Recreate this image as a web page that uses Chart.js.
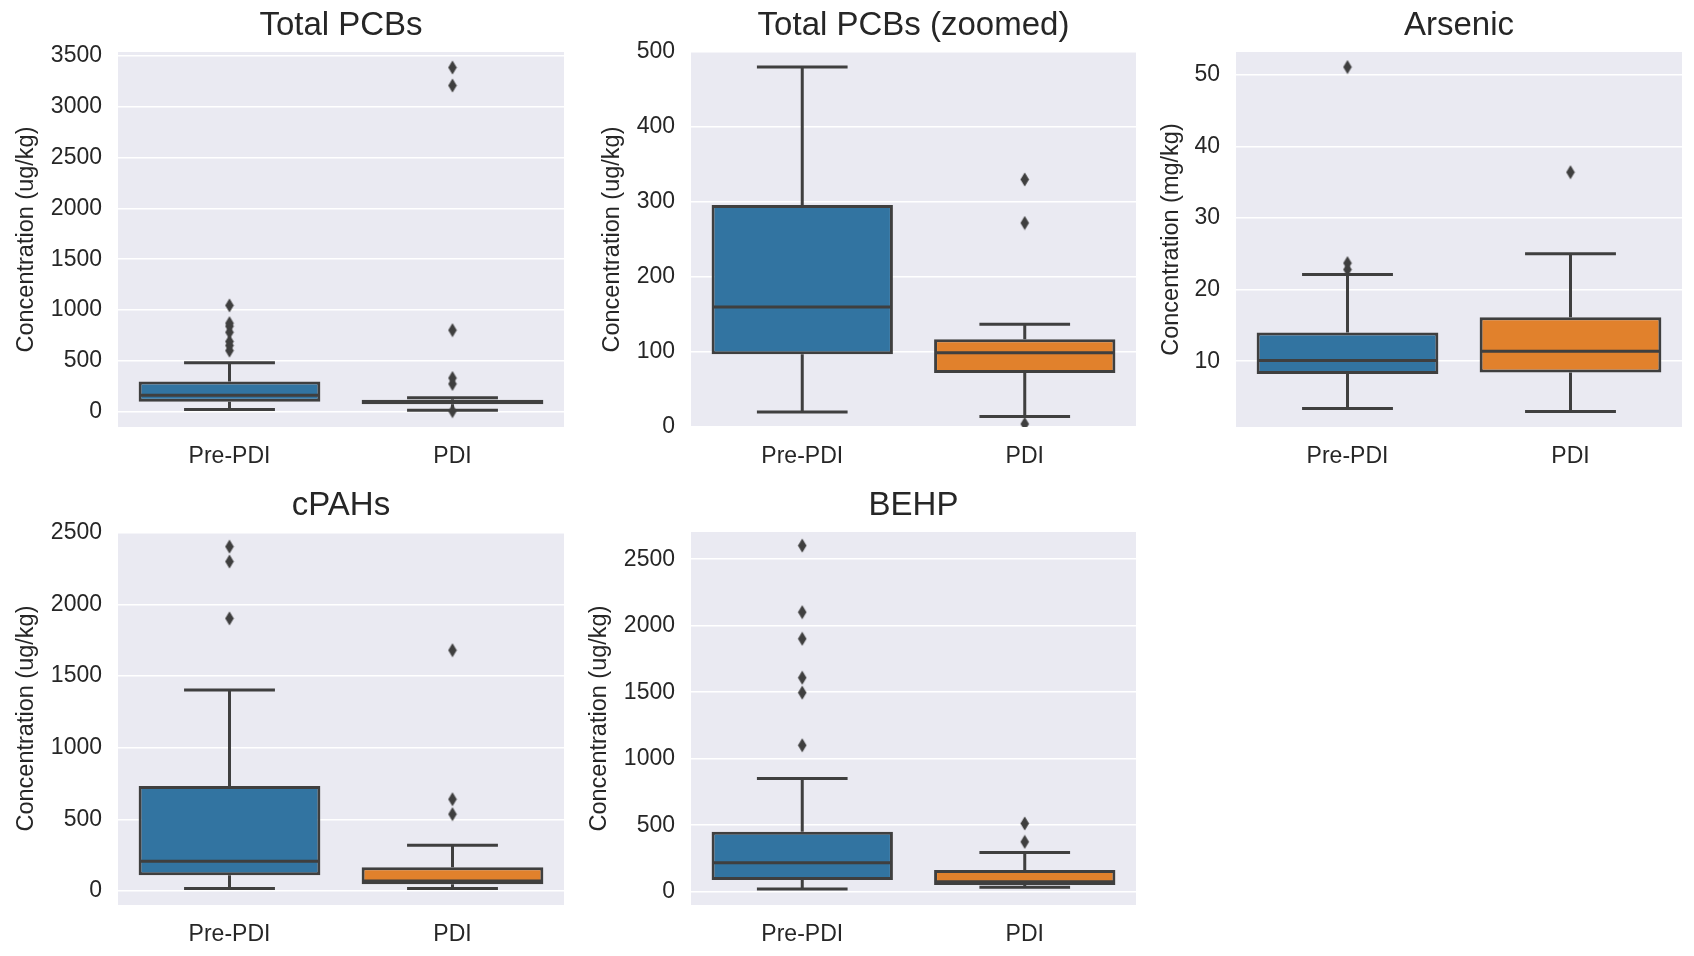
<!DOCTYPE html>
<html>
<head>
<meta charset="utf-8">
<script src="https://cdn.jsdelivr.net/npm/chart.js@4.4.1/dist/chart.umd.min.js"></script>
<style>
  html, body { margin: 0; padding: 0; background: #fff; }
  body { width: 1694px; height: 956px; position: relative; overflow: hidden; }
  canvas { position: absolute; }
</style>
</head>
<body>
<canvas id="pcb"></canvas>
<canvas id="pcbZoom"></canvas>
<canvas id="arsenic"></canvas>
<canvas id="cpah"></canvas>
<canvas id="behp"></canvas>
<script>
const categories = ['Pre-PDI', 'PDI'];

// Total PCBs (ug/kg), drawn twice (full range and zoomed to 0-500)
const pcbQ1 = [97, 72];
const pcbMedian = [160, 99];
const pcbQ3 = [296, 117];
const pcbLow = [20, 14];
const pcbHigh = [480, 137];
const pcbOutPre = [600, 650, 690, 780, 840, 870, 1045];
const pcbOutPdi = [4, 272, 330, 801, 3209, 3386];
const pcbTicks = [0, 500, 1000, 1500, 2000, 2500, 3000, 3500];
const pcbZoomTicks = [0, 100, 200, 300, 400, 500];

// Arsenic (mg/kg)
const asQ1 = [8.2, 8.4];
const asMedian = [10.1, 11.4];
const asQ3 = [14.0, 16.15];
const asLow = [3.4, 2.95];
const asHigh = [22.1, 25.0];
const asOutPre = [22.8, 23.7, 51.1];
const asOutPdi = [36.4];
const asTicks = [10, 20, 30, 40, 50];

// cPAHs (ug/kg)
const cpahQ1 = [109, 46];
const cpahMedian = [208, 69];
const cpahQ3 = [732, 166];
const cpahLow = [18, 18];
const cpahHigh = [1402, 319];
const cpahOutPre = [1902, 2299, 2403];
const cpahOutPdi = [536, 640, 1680];
const cpahTicks = [0, 500, 1000, 1500, 2000, 2500];

// BEHP (ug/kg)
const behpQ1 = [88, 50];
const behpMedian = [218, 75];
const behpQ3 = [450, 163];
const behpLow = [20, 33];
const behpHigh = [851, 295];
const behpOutPre = [1101, 1497, 1609, 1902, 2102, 2603];
const behpOutPdi = [375, 513];
const behpTicks = [0, 500, 1000, 1500, 2000, 2500];

const TEXT = '#262626';
const EDGE = '#3f3f3f';
const BOX_COLORS = ['#3274a1', '#e1812c'];
const AXIS_W = 110, TOP_H = 47, BOTTOM_H = 48, RIGHT_PAD = 8;
const LINE_W = 3;
const TITLE_SIZE = 33, TICK_SIZE = 23, LABEL_SIZE = 23.5;

Chart.defaults.font.family = '"Liberation Sans", Arial, sans-serif';
Chart.defaults.color = TEXT;

// thin diamond marker like matplotlib's 'd'
function diamondMarker() {
    const c = document.createElement('canvas');
    c.width = 10; c.height = 15;
    const g = c.getContext('2d');
    g.fillStyle = EDGE;
    g.beginPath();
    g.moveTo(5, 0.5); g.lineTo(9.3, 7.5); g.lineTo(5, 14.5); g.lineTo(0.7, 7.5);
    g.closePath();
    g.fill();
    return c;
}
const marker = diamondMarker();

const plotBackground = {
    id: 'plotBackground',
    beforeDraw(chart) {
        const { ctx, chartArea: a } = chart;
        ctx.save();
        ctx.fillStyle = '#eaeaf2';
        ctx.fillRect(a.left, a.top, a.width, a.height);
        ctx.restore();
    }
};

// whiskers, caps and median line, drawn right after the boxes
const boxLines = {
    id: 'boxLines',
    afterDatasetDraw(chart, args, opts) {
        if (args.index !== 0) return;
        const { ctx, chartArea: a } = chart;
        const y = chart.scales.y;
        ctx.save();
        ctx.beginPath();
        ctx.rect(a.left, a.top, a.width, a.height);
        ctx.clip();
        ctx.strokeStyle = EDGE;
        ctx.lineWidth = LINE_W;
        args.meta.data.forEach((bar, i) => {
            const x = bar.x, half = bar.width / 2, cap = bar.width / 4;
            const yq1 = y.getPixelForValue(opts.q1[i]);
            const yq3 = y.getPixelForValue(opts.q3[i]);
            const yLo = y.getPixelForValue(opts.low[i]);
            const yHi = y.getPixelForValue(opts.high[i]);
            const yMed = y.getPixelForValue(opts.median[i]);
            ctx.beginPath();
            ctx.moveTo(x, yq3); ctx.lineTo(x, yHi);
            ctx.moveTo(x, yq1); ctx.lineTo(x, yLo);
            ctx.moveTo(x - cap, yHi); ctx.lineTo(x + cap, yHi);
            ctx.moveTo(x - cap, yLo); ctx.lineTo(x + cap, yLo);
            ctx.moveTo(x - half + 1.5, yMed); ctx.lineTo(x + half - 1.5, yMed);
            ctx.stroke();
        });
        ctx.restore();
    }
};

function makeChart(p) {
    const [L, T, R, B] = p.rect;
    const canvas = document.getElementById(p.id);
    canvas.width = (R - L) + AXIS_W + RIGHT_PAD;
    canvas.height = TOP_H + (B - T) + BOTTOM_H;
    canvas.style.left = (L - AXIS_W) + 'px';
    canvas.style.top = (T - TOP_H) + 'px';

    const outliers = p.outPre.map(v => ({ x: categories[0], y: v }))
        .concat(p.outPdi.map(v => ({ x: categories[1], y: v })));
    const titleLine = TITLE_SIZE * 1.2;

    return new Chart(canvas, {
        type: 'bar',
        data: {
            labels: categories,
            datasets: [{
                type: 'bar',
                data: p.q1.map((v, i) => [v, p.q3[i]]),
                backgroundColor: BOX_COLORS,
                borderColor: EDGE,
                borderWidth: LINE_W,
                borderSkipped: false,
                categoryPercentage: 0.815,
                barPercentage: 1
            }, {
                type: 'scatter',
                data: outliers,
                pointStyle: marker,
                pointRadius: 7,
                clip: 0
            }]
        },
        options: {
            responsive: false,
            animation: false,
            events: [],
            layout: { padding: { left: 0, right: RIGHT_PAD, top: 0, bottom: 0 } },
            plugins: {
                legend: { display: false },
                tooltip: { enabled: false },
                title: {
                    display: true,
                    text: p.title,
                    fullSize: false,
                    color: TEXT,
                    font: { size: TITLE_SIZE, weight: 'normal' },
                    padding: { top: 1, bottom: TOP_H - titleLine - 1 }
                },
                boxLines: { q1: p.q1, q3: p.q3, low: p.low, high: p.high, median: p.median }
            },
            scales: {
                x: {
                    type: 'category',
                    offset: true,
                    grid: { display: false },
                    border: { display: false },
                    ticks: { color: TEXT, font: { size: TICK_SIZE }, padding: 8 },
                    afterFit: s => { s.height = BOTTOM_H; }
                },
                y: {
                    min: p.yMin,
                    max: p.yMax,
                    grid: { color: '#ffffff', lineWidth: 1.6, drawTicks: false },
                    border: { display: false },
                    ticks: { color: TEXT, font: { size: TICK_SIZE }, padding: 16, callback: v => String(v) },
                    afterBuildTicks: s => { s.ticks = p.ticks.map(v => ({ value: v })); },
                    afterFit: s => { s.width = AXIS_W; },
                    title: {
                        display: true,
                        text: p.unit,
                        color: TEXT,
                        font: { size: LABEL_SIZE },
                        padding: { top: AXIS_W - p.labelOffset - LABEL_SIZE * 0.6, bottom: 0 }
                    }
                }
            }
        },
        plugins: [plotBackground, boxLines]
    });
}

const ug = 'Concentration (ug/kg)';
const panels = [
    { id: 'pcb', title: 'Total PCBs', unit: ug, rect: [118, 52, 564, 427], labelOffset: 91,
      q1: pcbQ1, median: pcbMedian, q3: pcbQ3, low: pcbLow, high: pcbHigh,
      outPre: pcbOutPre, outPdi: pcbOutPdi, yMin: -152, yMax: 3539, ticks: pcbTicks },
    { id: 'pcbZoom', title: 'Total PCBs (zoomed)', unit: ug, rect: [691, 52, 1136, 427], labelOffset: 78,
      q1: pcbQ1, median: pcbMedian, q3: pcbQ3, low: pcbLow, high: pcbHigh,
      outPre: pcbOutPre, outPdi: pcbOutPdi, yMin: 0, yMax: 500, ticks: pcbZoomTicks },
    { id: 'arsenic', title: 'Arsenic', unit: 'Concentration (mg/kg)', rect: [1236, 52, 1682, 427], labelOffset: 64,
      q1: asQ1, median: asMedian, q3: asQ3, low: asLow, high: asHigh,
      outPre: asOutPre, outPdi: asOutPdi, yMin: 0.8, yMax: 53.2, ticks: asTicks },
    { id: 'cpah', title: 'cPAHs', unit: ug, rect: [118, 532, 564, 905], labelOffset: 91,
      q1: cpahQ1, median: cpahMedian, q3: cpahQ3, low: cpahLow, high: cpahHigh,
      outPre: cpahOutPre, outPdi: cpahOutPdi, yMin: -98, yMax: 2505, ticks: cpahTicks },
    { id: 'behp', title: 'BEHP', unit: ug, rect: [691, 532, 1136, 905], labelOffset: 91,
      q1: behpQ1, median: behpMedian, q3: behpQ3, low: behpLow, high: behpHigh,
      outPre: behpOutPre, outPdi: behpOutPdi, yMin: -100, yMax: 2705, ticks: behpTicks }
];

panels.forEach(makeChart);
</script>
</body>
</html>
